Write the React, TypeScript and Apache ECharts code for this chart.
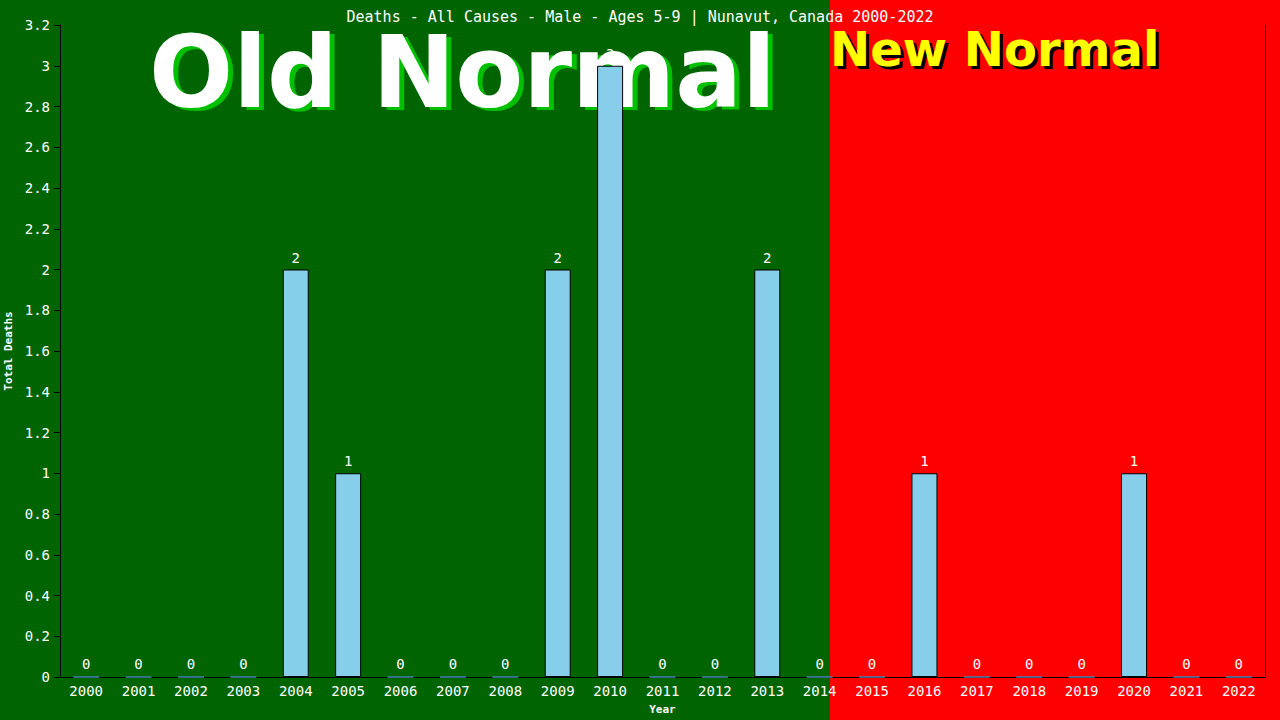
import React, { useEffect, useRef } from 'react';
import * as echarts from 'echarts';

const years = [
  '2000', '2001', '2002', '2003', '2004', '2005', '2006', '2007', '2008', '2009', '2010', '2011',
  '2012', '2013', '2014', '2015', '2016', '2017', '2018', '2019', '2020', '2021', '2022',
];
const deaths = [0, 0, 0, 0, 2, 1, 0, 0, 0, 2, 3, 0, 0, 2, 0, 0, 1, 0, 0, 0, 1, 0, 0];

const titleText = 'Deaths - All Causes - Male - Ages 5-9 | Nunavut, Canada 2000-2022';
const mono = '"DejaVu Sans Mono", monospace';
const bold = '"DejaVu Sans", sans-serif';

export default function App() {
  const chartRef = useRef<HTMLDivElement>(null);

  useEffect(() => {
    const chart = echarts.init(chartRef.current!, undefined, { renderer: 'svg' });

    const option = {
      animation: false,
      backgroundColor: '#006400',
      title: {
        text: titleText,
        left: 'center',
        top: 4,
        textStyle: { color: '#fff', fontFamily: mono, fontSize: 15, fontWeight: 'normal' },
      },
      grid: { left: 60, right: 15, top: 25, bottom: 43, outerBoundsMode: 'none', containLabel: false },
      graphic: [
        // new normal backdrop
        { type: 'rect', z: -10, shape: { x: 830, y: 0, width: 450, height: 720 }, style: { fill: '#ff0000' } },
        {
          type: 'text', z: -5, x: 154, y: 26,
          style: { text: 'Old Normal', fill: '#00c000', font: `bold 99px ${bold}` },
        },
        {
          type: 'text', z: -4, x: 149, y: 23,
          style: { text: 'Old Normal', fill: '#ffffff', font: `bold 99px ${bold}` },
        },
        {
          type: 'text', z: -5, x: 833, y: 28,
          style: { text: 'New Normal', fill: '#000000', font: `bold 48px ${bold}` },
        },
        {
          type: 'text', z: -4, x: 830, y: 25,
          style: { text: 'New Normal', fill: '#ffff00', font: `bold 48px ${bold}` },
        },
      ],
      xAxis: {
        type: 'category',
        data: years,
        name: 'Year',
        nameLocation: 'middle',
        nameGap: 27,
        nameTextStyle: { color: '#fff', fontFamily: mono, fontSize: 11, fontWeight: 'bold' },
        axisLine: { lineStyle: { color: '#000', width: 1 } },
        axisTick: { show: false },
        axisLabel: { color: '#fff', fontFamily: mono, fontSize: 14, margin: 7, interval: 0 },
      },
      yAxis: [
        {
          type: 'value',
          min: 0,
          max: 3.2,
          interval: 0.2,
          name: 'Total Deaths',
          nameLocation: 'middle',
          nameGap: 40,
          nameTextStyle: { color: '#fff', fontFamily: mono, fontSize: 11, fontWeight: 'bold' },
          axisLine: { show: true, lineStyle: { color: '#000' } },
          axisTick: { show: true, length: 6, lineStyle: { color: '#000' } },
          axisLabel: {
            color: '#fff', fontFamily: mono, fontSize: 14, margin: 10,
            formatter: (v: number) => String(parseFloat(v.toFixed(1))),
          },
          splitLine: { show: false },
        },
        {
          type: 'value',
          min: 0,
          max: 3.2,
          position: 'right',
          axisLine: { show: true, lineStyle: { color: '#000' } },
          axisTick: { show: false },
          axisLabel: { show: false },
          splitLine: { show: false },
        },
      ],
      series: [
        {
          type: 'bar',
          barWidth: 26,
          data: deaths.map((v) => ({
            value: v,
            itemStyle: v === 0
              ? { color: '#4682b4', borderColor: '#4682b4', borderWidth: 1.5 }
              : { color: '#87ceeb', borderColor: '#000', borderWidth: 1 },
          })),
          label: {
            show: true,
            position: 'top',
            distance: 5,
            color: '#fff',
            fontFamily: mono,
            fontSize: 14,
          },
        },
      ],
    };

    chart.setOption(option);
    return () => {
      chart.dispose();
    };
  }, []);

  return (
    <div
      ref={chartRef}
      style={{ position: 'fixed', left: 0, top: 0, width: '1280px', height: '720px' }}
    />
  );
}
